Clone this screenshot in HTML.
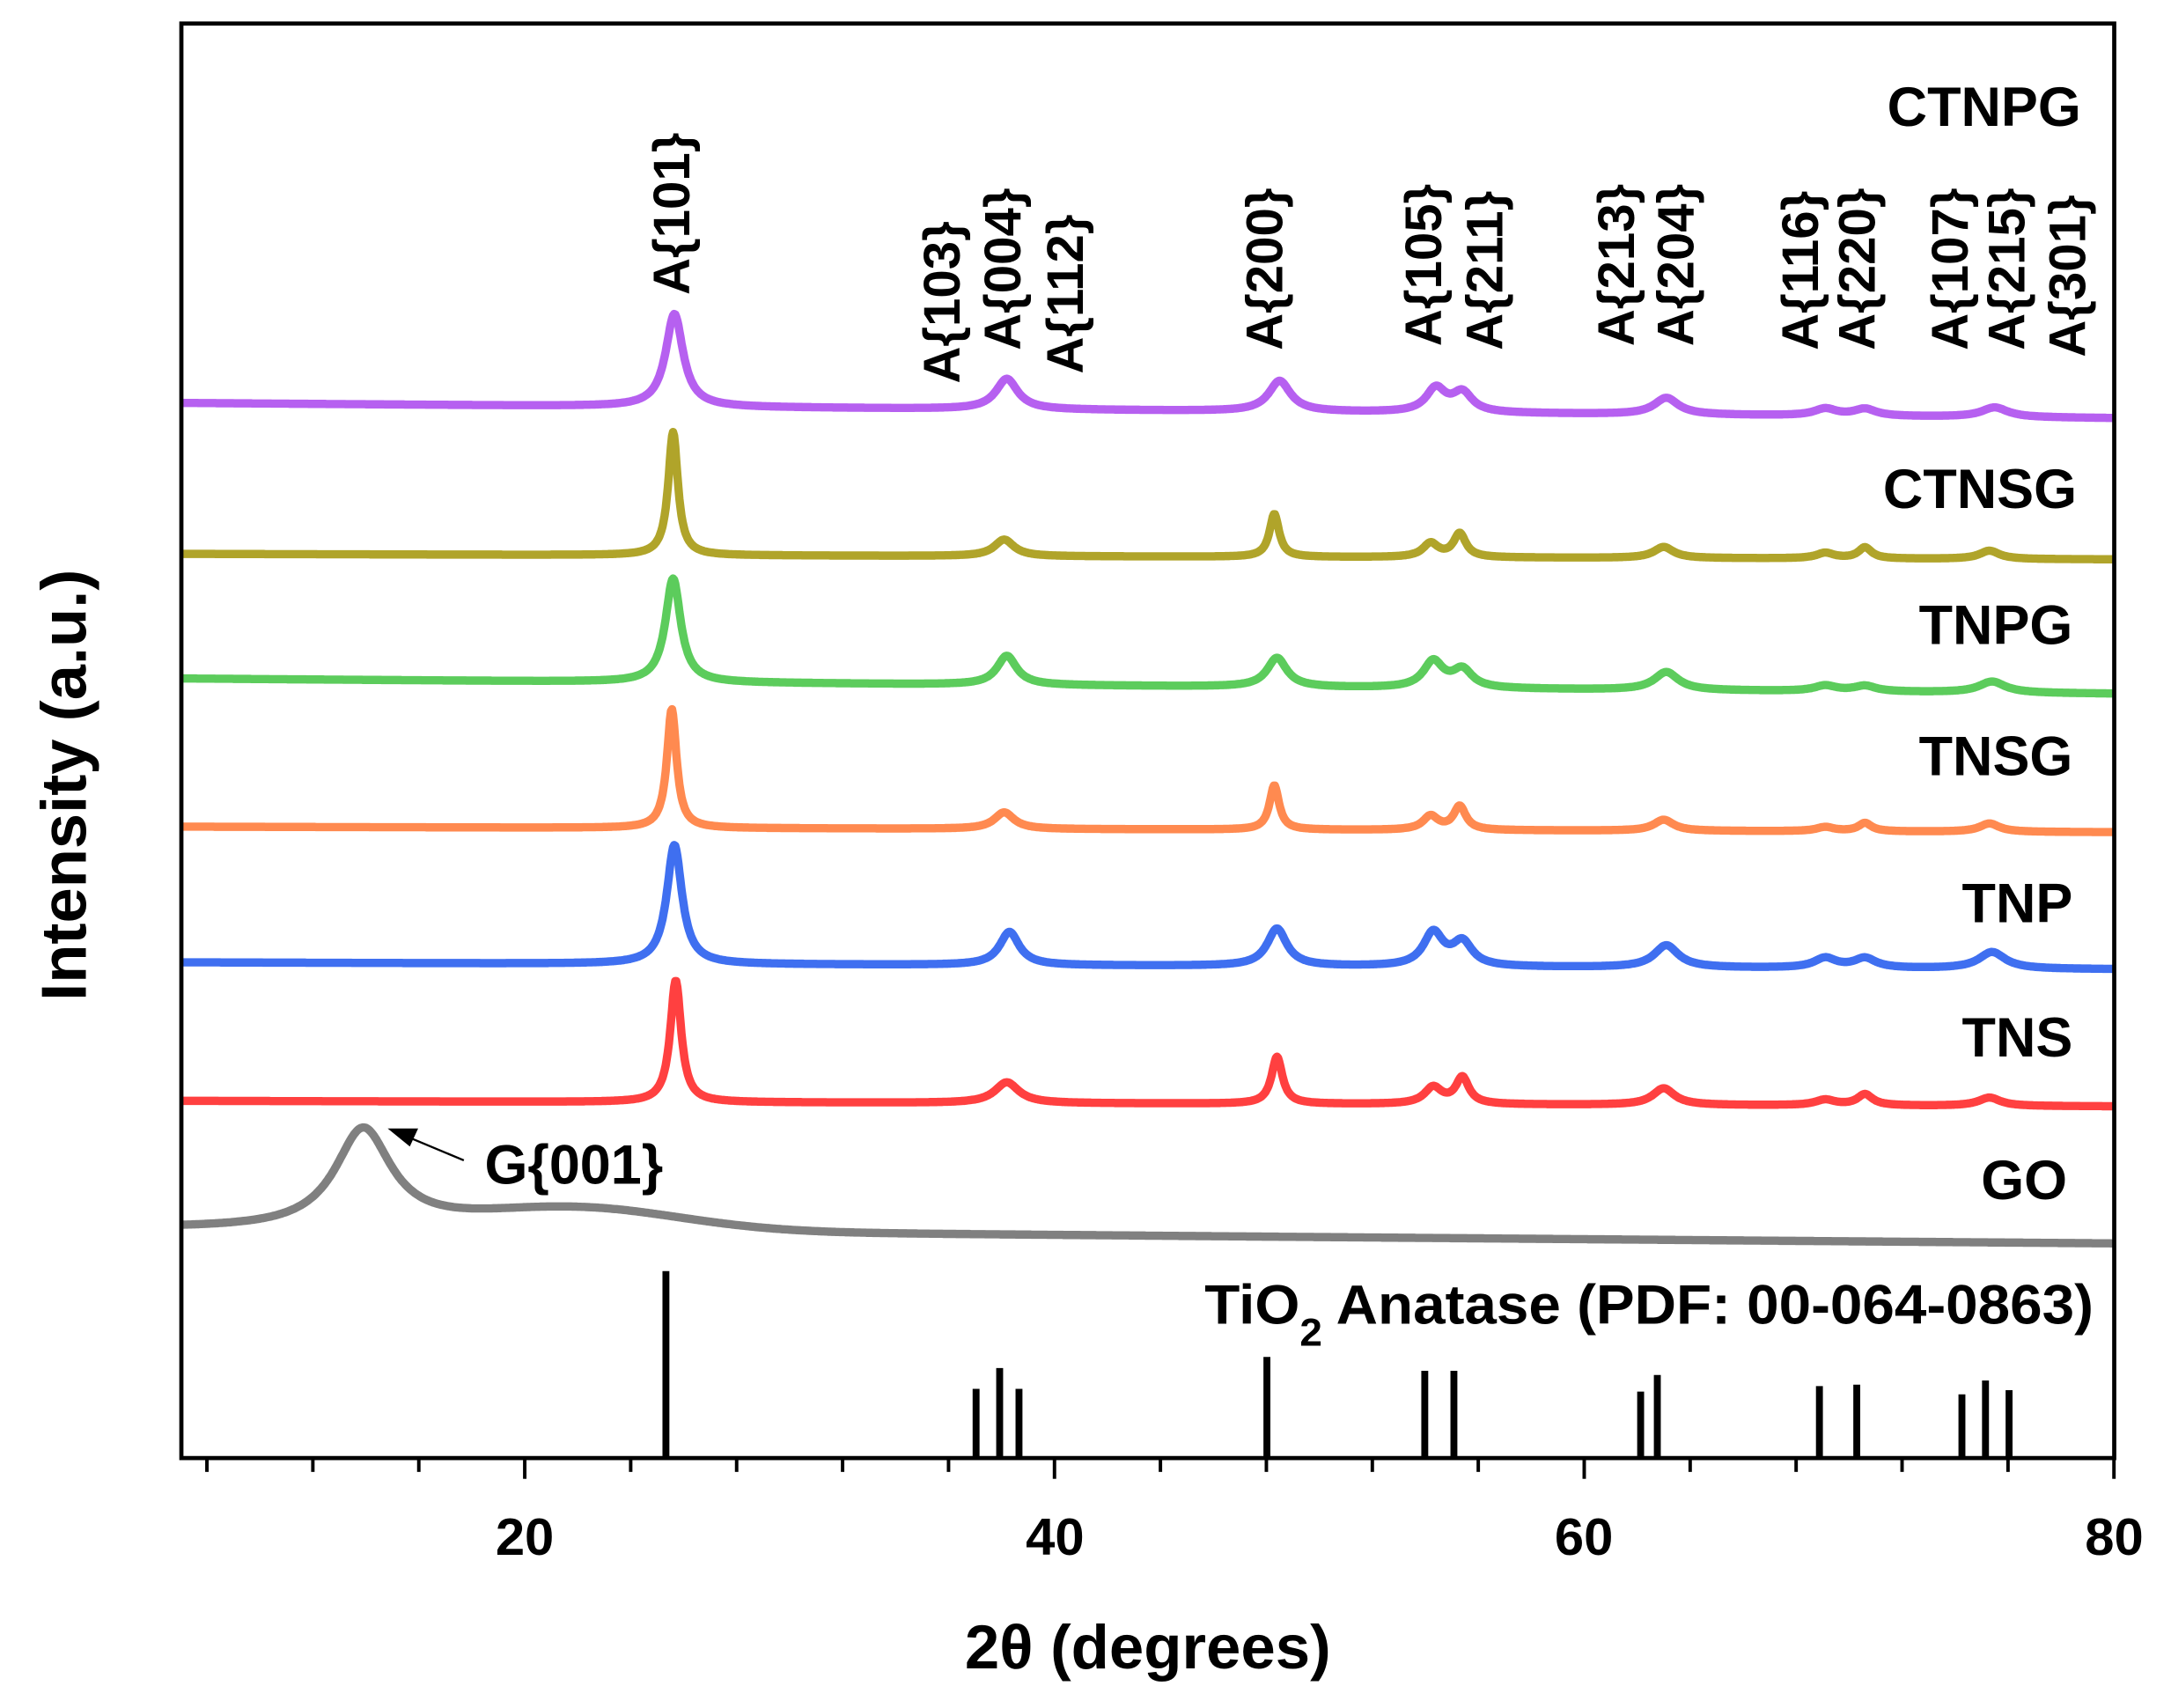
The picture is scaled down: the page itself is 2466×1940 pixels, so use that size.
<!DOCTYPE html>
<html><head><meta charset="utf-8"><style>html,body{margin:0;padding:0;background:#fff}svg{display:block}text{font-family:"Liberation Sans",Arial,sans-serif;font-weight:bold;fill:#000}</style></head>
<body>
<svg id="s" xmlns="http://www.w3.org/2000/svg" width="2466" height="1940" viewBox="0 0 1568 1233.5" preserveAspectRatio="none">
<rect x="0" y="0" width="1568" height="1234" fill="#fff"/>
<g id="traces"></g>
<g id="refs" stroke="#000" stroke-width="5"></g>
<rect x="131" y="17" width="1396" height="1036" fill="none" stroke="#000" stroke-width="3"/>
<g id="ticks" stroke="#000" stroke-width="2.5"></g>
<g font-size="38" text-anchor="middle">
<text x="379" y="1123">20</text><text x="762" y="1123">40</text><text x="1144" y="1123">60</text><text x="1527" y="1123">80</text>
</g>
<text x="829" y="1205" font-size="45" text-anchor="middle">2θ (degrees)</text>
<text transform="translate(62,567) rotate(-90)" font-size="46" text-anchor="middle">Intensity (a.u.)</text>
<g font-size="40" text-anchor="end">
<text x="1503" y="91">CTNPG</text><text x="1500" y="367">CTNSG</text><text x="1497" y="465">TNPG</text><text x="1497" y="560">TNSG</text><text x="1497" y="666">TNP</text><text x="1497" y="763">TNS</text><text x="1493" y="866">GO</text>
</g>
<text x="870" y="956" font-size="40" textLength="642" lengthAdjust="spacingAndGlyphs">TiO<tspan font-size="28" dy="16">2</tspan><tspan dy="-16"> Anatase (PDF: 00-064-0863)</tspan></text>
<text x="350" y="855" font-size="40">G{001}</text>
<line x1="335" y1="838" x2="292" y2="820" stroke="#000" stroke-width="1.5"/>
<polygon points="280,815 302,815 296,828" fill="#000"/>
<g id="lbl" font-size="37"></g>
</svg>
<script>
var NS="http://www.w3.org/2000/svg";
function X(d){return 379+(d-20)*19.13;}
function el(t,a,p){var e=document.createElementNS(NS,t);for(var k in a)e.setAttribute(k,a[k]);p.appendChild(e);return e;}
var tk=document.getElementById('ticks');
for(var d=8;d<=80;d+=4){var big=(d%20==0);el('line',{x1:X(d),y1:1053,x2:X(d),y2:1053+(big?15:10)},tk);}
var refs=[[25.33,918],[37.04,1003],[37.93,988],[38.66,1003],[48.02,980],[53.98,990],[55.08,990],[62.13,1005],[62.76,993],[68.88,1001],[70.29,1000],[74.26,1007],[75.15,997],[76.04,1004]];
var rg=document.getElementById('refs');
refs.forEach(function(r){el('line',{x1:X(r[0]),y1:1053,x2:X(r[0]),y2:r[1]},rg);});
var L=[["A{101}",485,213],["A{103}",680,277],["A{004}",724,253],["A{112}",769,270],["A{200}",913,253],["A{105}",1028,250],["A{211}",1072,253],["A{213}",1167,250],["A{204}",1210,250],["A{116}",1300,253],["A{220}",1341,253],["A{107}",1408,253],["A{215}",1449,253],["A{301}",1493,258]];
var lg=document.getElementById('lbl');
L.forEach(function(l){var t=el('text',{transform:'translate('+(l[1]+13)+','+l[2]+') rotate(-90)'},lg);t.textContent=l[0];});
function lor(x,c,w){return 1/(1+Math.pow((x-c)/w,2));}
var SH=0.3;
var traces=[
 {c:"#b660f0",y0:291,y1:302,pk:[[25.35,67,.4],[37.9,22,.5],[48.2,22,.5],[54.1,17,.45],[55.1,14,.45],[62.8,12,.55],[68.8,5,.5],[70.3,5,.5],[75.2,7,.6]]},
 {c:"#b0a42a",y0:400,y1:404,pk:[[25.3,89,.22],[37.8,12,.45],[48.0,31,.22],[53.9,10,.35],[55.0,17,.28],[62.7,8,.45],[68.8,4,.4],[70.3,8,.3],[75.0,6,.45]]},
 {c:"#5ccc5c",y0:490,y1:501,pk:[[25.3,75,.35],[37.9,21,.45],[48.1,21,.45],[54.0,19,.45],[55.1,13,.45],[62.8,13,.55],[68.8,4,.5],[70.3,4,.5],[75.1,8,.6]]},
 {c:"#ff8a50",y0:597,y1:601,pk:[[25.25,86,.22],[37.8,12,.45],[48.0,32,.22],[53.9,10,.35],[55.0,17,.28],[62.7,8,.45],[68.8,3,.4],[70.3,6,.3],[75.0,6,.45]]},
 {c:"#3f6ff0",y0:695,y1:700,pk:[[25.35,86,.35],[38.0,24,.45],[48.1,27,.45],[54.0,24,.45],[55.1,17,.45],[62.8,16,.55],[68.8,7,.5],[70.3,7,.5],[75.1,12,.6]]},
 {c:"#ff4040",y0:795,y1:799,pk:[[25.4,88,.25],[37.9,15,.55],[48.1,34,.25],[54.0,12,.4],[55.1,19,.3],[62.7,12,.5],[68.8,4,.45],[70.3,8,.35],[75.0,6,.5]]}
];
var tg=document.getElementById('traces');
traces.forEach(function(t){var s="";for(var d=7;d<=80.001;d+=0.04){var y=t.y0+(t.y1-t.y0)*(d-7)/73;t.pk.forEach(function(p){y-=p[1]*lor(d,p[0]+SH,p[2]);});s+=(s?"L":"M")+X(d).toFixed(1)+","+y.toFixed(1);}el('path',{d:s,fill:"none",stroke:t.c,"stroke-width":6,"stroke-linejoin":"round"},tg);});
var s="";for(var d=7;d<=80.001;d+=0.05){var y=887+11*(d-7)/73;y-=72*lor(d,13.9,1.3);y-=16*Math.exp(-Math.pow((d-22)/5.5,2));s+=(s?"L":"M")+X(d).toFixed(1)+","+y.toFixed(1);}
el('path',{d:s,fill:"none",stroke:"#808080","stroke-width":6,"stroke-linejoin":"round"},tg);
</script>
</body></html>
